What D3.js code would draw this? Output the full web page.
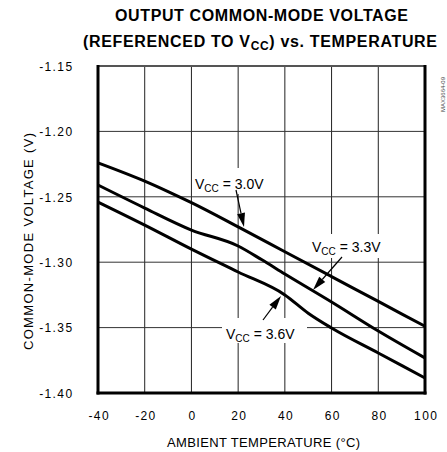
<!DOCTYPE html>
<html><head><meta charset="utf-8">
<script src="https://cdn.jsdelivr.net/npm/d3@7"></script>
<style>body{margin:0;background:#fff}text{font-family:"Liberation Sans",Arial,sans-serif}</style>
</head><body><svg id="c" width="447" height="452"></svg>
<script>
const temps = [-40, -20, -10, 0, 20, 40, 60, 80, 100];
const vcc30 = [-1.224, -1.238, -1.246, -1.2545, -1.273, -1.292, -1.311, -1.330, -1.349];
const temps33 = [-40, -20, 0, 20, 30, 40, 60, 80, 100];
const vcc33 = [-1.241, -1.2586, -1.2754, -1.2876, -1.298, -1.309, -1.3304, -1.3526, -1.3732];
const temps36 = [-40, -20, 0, 20, 40, 50, 60, 80, 100];
const vcc36 = [-1.254, -1.2716, -1.290, -1.3075, -1.325, -1.339, -1.3503, -1.3694, -1.3885];
const xTicks = [-40, -20, 0, 20, 40, 60, 80, 100];
const yTicks = [-1.15, -1.20, -1.25, -1.30, -1.35, -1.40];
const seriesLabels = ["3.0V", "3.3V", "3.6V"];

const svg = d3.select("#c");
const L = 98, R = 425, T = 66, B = 393;
const x = d3.scaleLinear().domain([-40, 100]).range([L, R]);
const y = d3.scaleLinear().domain([-1.15, -1.40]).range([T, B]);
const hy = d3.formatLocale({decimal: ".", thousands: ",", grouping: [3], currency: ["", ""], minus: "-"});

// gridlines
const g = svg.append("g");
g.selectAll("line.v").data(xTicks.slice(1, -1)).enter().append("line")
  .attr("x1", d => x(d)).attr("x2", d => x(d)).attr("y1", T).attr("y2", B)
  .attr("stroke", "#222").attr("stroke-width", 1);
g.selectAll("line.h").data(yTicks.slice(1, -1)).enter().append("line")
  .attr("x1", L).attr("x2", R).attr("y1", d => y(d)).attr("y2", d => y(d))
  .attr("stroke", "#333").attr("stroke-width", 1);

// tick labels via axes
const xAxis = d3.axisBottom(x).tickValues(xTicks).tickSize(0).tickPadding(0).tickFormat(hy.format("d"));
const xa = svg.append("g").attr("transform", `translate(0.7,${B + 18})`).call(xAxis);
xa.select(".domain").remove();
xa.selectAll("text").attr("font-size", 12).attr("fill", "#000").attr("font-family", "Liberation Sans, Arial, sans-serif").attr("dy", "0.71em").attr("letter-spacing", "1.4px");
const yAxis = d3.axisLeft(y).tickValues(yTicks).tickSize(0).tickPadding(0).tickFormat(hy.format(".2f"));
const ya = svg.append("g").attr("transform", `translate(${L - 24.5},0.5)`).call(yAxis);
ya.select(".domain").remove();
ya.selectAll("text").attr("font-size", 12).attr("fill", "#000").attr("font-family", "Liberation Sans, Arial, sans-serif").attr("letter-spacing", "1.4px");

// label boxes (white background interrupting grid)
function vccLabel(px, py, val) {
  const t = svg.append("text").attr("x", px).attr("y", py).attr("font-size", 14).attr("fill", "#000");
  t.append("tspan").text("V");
  t.append("tspan").attr("font-size", 10).attr("dy", 3).text("CC");
  t.append("tspan").attr("dy", -3).text(" = " + val);
  return t;
}
function box(x0, y0, w, h) {
  svg.append("rect").attr("x", x0).attr("y", y0).attr("width", w).attr("height", h).attr("fill", "#fff");
}
box(193, 168, 78, 26);
box(310, 234, 77, 24);
box(222, 318, 85, 25);

// curves
const line = d3.line().x(d => x(d[0])).y(d => y(d[1])).curve(d3.curveMonotoneX);
const series = [d3.zip(temps, vcc30), d3.zip(temps33, vcc33), d3.zip(temps36, vcc36)];
svg.selectAll("path.s").data(series).enter().append("path")
  .attr("d", line).attr("fill", "none").attr("stroke", "#000").attr("stroke-width", 3).attr("stroke-linejoin", "round");

// frame
svg.append("line").attr("x1", L).attr("x2", R).attr("y1", T).attr("y2", T).attr("stroke", "#555").attr("stroke-width", 2);
svg.append("line").attr("x1", L).attr("x2", L).attr("y1", T - 1).attr("y2", B + 1.5).attr("stroke", "#000").attr("stroke-width", 3);
svg.append("line").attr("x1", R).attr("x2", R).attr("y1", T - 1).attr("y2", B + 1.5).attr("stroke", "#000").attr("stroke-width", 3);
svg.append("line").attr("x1", L - 1.5).attr("x2", R + 1.5).attr("y1", B).attr("y2", B).attr("stroke", "#000").attr("stroke-width", 3);

// labels
vccLabel(195, 189, seriesLabels[0]);
vccLabel(312, 252, seriesLabels[1]);
vccLabel(226, 339, seriesLabels[2]);

// arrows
function arrow(x1, y1, x2, y2) {
  const ang = Math.atan2(y2 - y1, x2 - x1);
  const len = 14, hw = 4;
  const bx = x2 - len * Math.cos(ang), by = y2 - len * Math.sin(ang);
  svg.append("line").attr("x1", x1).attr("y1", y1).attr("x2", bx).attr("y2", by).attr("stroke", "#000").attr("stroke-width", 1.2);
  const px = -Math.sin(ang) * hw, py = Math.cos(ang) * hw;
  svg.append("path").attr("d", `M${x2},${y2}L${bx + px},${by + py}L${bx - px},${by - py}Z`).attr("fill", "#000");
}
arrow(236, 190, 244, 227);
arrow(342, 257, 313, 290);
arrow(263, 320, 281, 296);

// titles
svg.append("text").attr("x", 115).attr("y", 21).attr("font-size", 16).attr("font-weight", "bold")
  .attr("textLength", 293).attr("lengthAdjust", "spacing").text("OUTPUT COMMON-MODE VOLTAGE");
const t2 = svg.append("text").attr("x", 83).attr("y", 47).attr("font-size", 16).attr("font-weight", "bold")
  .attr("textLength", 354).attr("lengthAdjust", "spacing");
t2.append("tspan").text("(REFERENCED TO V");
t2.append("tspan").attr("font-size", 12).attr("dy", 3).text("CC");
t2.append("tspan").attr("dy", -3).text(")  vs.   TEMPERATURE");

svg.append("text").attr("x", 167).attr("y", 447).attr("font-size", 13)
  .attr("textLength", 193).attr("lengthAdjust", "spacing").text("AMBIENT TEMPERATURE (°C)");
svg.append("text").attr("transform", "translate(33,350) rotate(-90)").attr("font-size", 13)
  .attr("textLength", 217).attr("lengthAdjust", "spacing").text("COMMON-MODE VOLTAGE (V)");
svg.append("text").attr("transform", "translate(445,112) rotate(-90)").attr("font-size", 6).attr("fill", "#444").text("MAX3664-09");
</script></body></html>
